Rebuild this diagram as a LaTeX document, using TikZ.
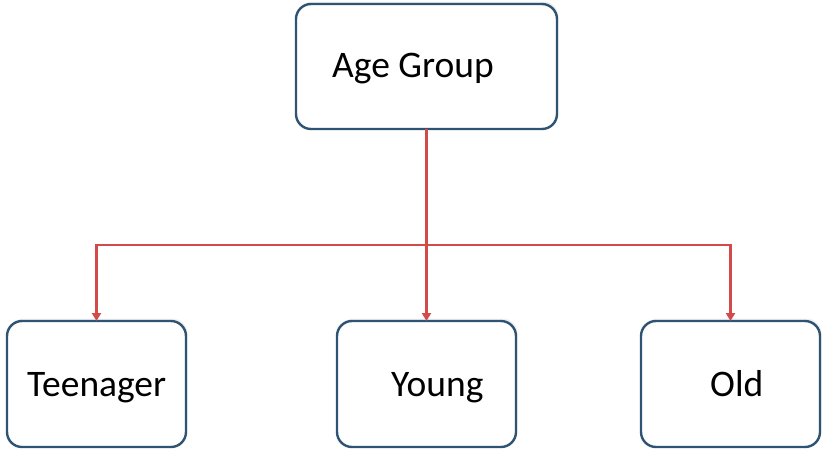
\documentclass[tikz,border=0pt]{standalone}
\usepackage{fontspec}
\setmainfont{Carlito}
\usetikzlibrary{arrows.meta,shadows}
\definecolor{boxline}{HTML}{2F5473}
\definecolor{arrowred}{HTML}{D24A4A}
\tikzset{
  box/.style={draw=boxline, line width=2.4pt, rounded corners=15pt, fill=white,
    inner sep=0pt, outer sep=0pt,
    drop shadow={opacity=0.12, shadow xshift=1.5pt, shadow yshift=2.5pt}},
  lbl/.style={font=\fontsize{37.5}{42}\selectfont, inner sep=0pt, anchor=base west, text=black},
  conn/.style={draw=arrowred, line width=2.5pt, -{Triangle[length=8pt,width=9pt]}}
}
\begin{document}
\begin{tikzpicture}[x=1pt,y=-1pt]
\useasboundingbox (0,0) rectangle (827,458);
\node[box, minimum width=261pt, minimum height=125pt] (age) at (426.5,66.5) {};
\node[box, minimum width=179pt, minimum height=126pt] (teen) at (96.5,384) {};
\node[box, minimum width=179pt, minimum height=126pt] (young) at (426.5,384) {};
\node[box, minimum width=179pt, minimum height=126pt] (old) at (730.5,384) {};
\node[lbl] (agetxt) at (332,77) {Age Group};
\node[lbl] (teentxt) at (27,396) {Teenager};
\node[lbl] (youngtxt) at (391,396) {Young};
\node[lbl] (oldtxt) at (710,396) {Old};
\coordinate (hub) at (426.5,245);
\draw[conn] (age.south) -- (young.north);
\draw[conn] (hub) -| (teen.north);
\draw[conn] (hub) -| (old.north);
\end{tikzpicture}
\end{document}
